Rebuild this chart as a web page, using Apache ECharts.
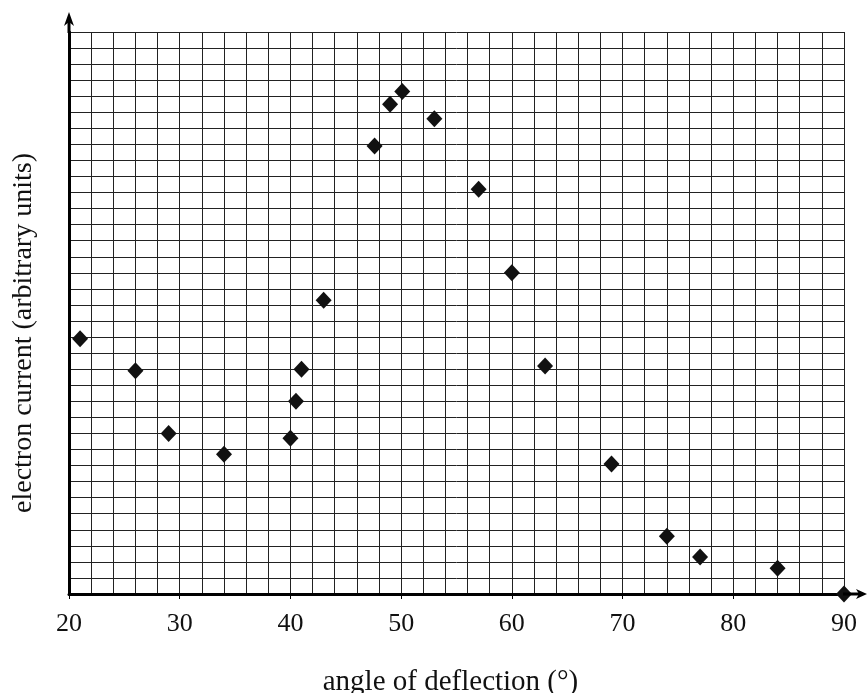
<!DOCTYPE html>
<html>
<head>
<meta charset="utf-8">
<script src="https://cdn.jsdelivr.net/npm/echarts@6/dist/echarts.min.js"></script>
<style>
  html, body { margin: 0; padding: 0; background: #fff; }
  #main { width: 867px; height: 693px; }
</style>
</head>
<body>
<div id="main"></div>
<script>
// angle of deflection (degrees) and electron current (arbitrary units, one unit = one grid row)
var angles = [21, 26, 29, 34, 40, 40.5, 41, 43, 47.6, 49, 50.1, 53, 57, 60, 63, 69, 74, 77, 84, 90];
var currents = [15.9, 13.9, 10, 8.7, 9.7, 12, 14, 18.3, 27.9, 30.5, 31.3, 29.6, 25.2, 20, 14.2, 8.1, 3.6, 2.3, 1.6, 0];

var xMin = 20, xMax = 90, xStep = 10;
var yMin = 0, yMax = 35, yStep = 1;

var points = angles.map(function (a, i) { return [a, currents[i]]; });

var font = '"Liberation Serif", "DejaVu Serif", serif';

var myChart = echarts.init(document.getElementById('main'));
var option = {
    animation: false,
    backgroundColor: '#fff',
    grid: { left: 69, right: 23, top: 32, bottom: 99, outerBoundsMode: 'none', containLabel: false },
    xAxis: {
        type: 'value',
        min: xMin,
        max: xMax,
        interval: xStep,
        name: 'angle of deflection (°)',
        nameLocation: 'middle',
        nameGap: 74,
        nameTextStyle: { color: '#111', fontFamily: font, fontSize: 29, padding: [0, 12, 0, 0] },
        axisLine: { show: true, onZero: false, lineStyle: { color: '#000', width: 3 } },
        axisTick: { show: true, length: 5, lineStyle: { color: '#000', width: 1 } },
        axisLabel: { color: '#111', fontFamily: font, fontSize: 26, margin: 17 },
        splitLine: { show: true, lineStyle: { color: '#222', width: 1 } },
        minorTick: { show: false, splitNumber: 5 },
        minorSplitLine: { show: true, lineStyle: { color: '#222', width: 1 } }
    },
    yAxis: {
        type: 'value',
        min: yMin,
        max: yMax,
        interval: yStep,
        name: 'electron current (arbitrary units)',
        nameLocation: 'middle',
        nameGap: 31,
        nameTextStyle: { color: '#111', fontFamily: font, fontSize: 28, padding: [0, 40, 0, 0] },
        axisLine: { show: true, onZero: false, lineStyle: { color: '#000', width: 3 } },
        axisTick: { show: false },
        axisLabel: { show: false },
        splitLine: { show: true, lineStyle: { color: '#222', width: 1 } }
    },
    series: [
        {
            type: 'scatter',
            data: points,
            symbol: 'diamond',
            symbolSize: [16, 17],
            clip: false,
            z: 5,
            itemStyle: { color: '#111', opacity: 1 }
        }
    ]
};
myChart.setOption(option);

// axis lines run past the grid and end in arrow heads
var o = myChart.convertToPixel({ gridIndex: 0 }, [xMin, yMin]);
var t = myChart.convertToPixel({ gridIndex: 0 }, [xMin, yMax]);
var r = myChart.convertToPixel({ gridIndex: 0 }, [xMax, yMin]);
myChart.setOption({
    graphic: [
        { type: 'line', z: 10, shape: { x1: o[0], y1: t[1] + 1, x2: o[0], y2: t[1] - 11 }, style: { stroke: '#000', lineWidth: 3 } },
        { type: 'polygon', z: 10, shape: { points: [[o[0], t[1] - 20], [o[0] - 5, t[1] - 6], [o[0], t[1] - 10], [o[0] + 5, t[1] - 6]] }, style: { fill: '#000' } },
        { type: 'line', z: 10, shape: { x1: r[0] - 1, y1: o[1], x2: r[0] + 16, y2: o[1] }, style: { stroke: '#000', lineWidth: 3 } },
        { type: 'polygon', z: 10, shape: { points: [[r[0] + 23, o[1]], [r[0] + 12, o[1] - 5], [r[0] + 15, o[1]], [r[0] + 12, o[1] + 5]] }, style: { fill: '#000' } }
    ]
});
</script>
</body>
</html>
